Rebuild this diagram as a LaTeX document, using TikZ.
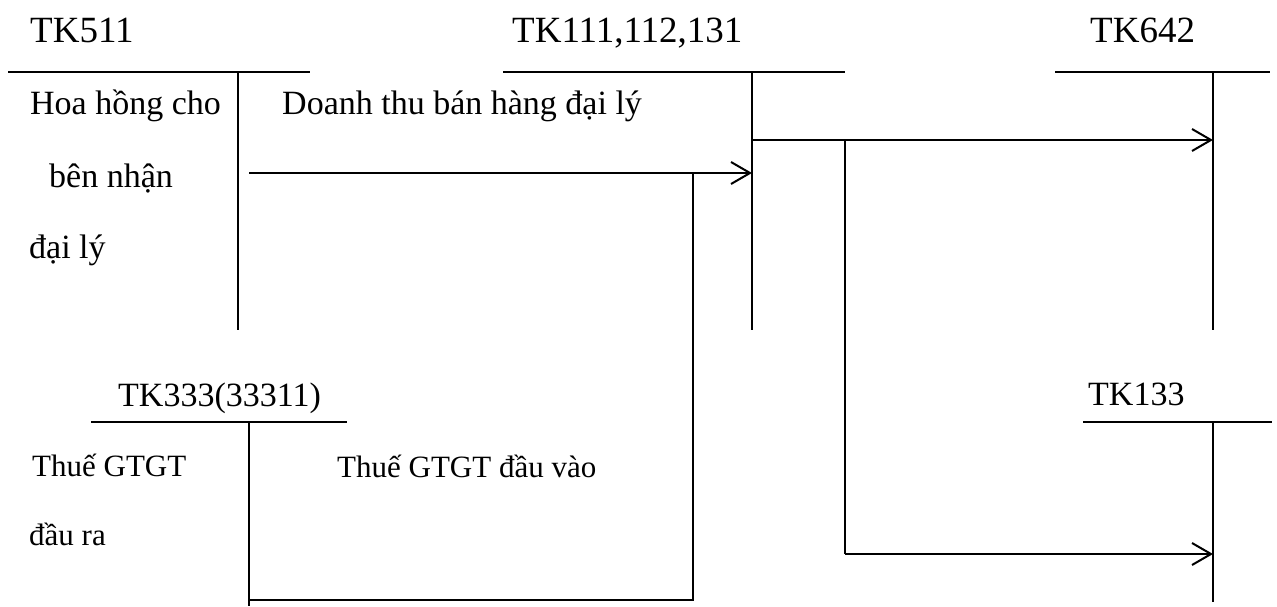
\documentclass[tikz,border=0pt]{standalone}
\usepackage{fontspec}
\setmainfont{Liberation Serif}
\usetikzlibrary{arrows.meta}
\begin{document}
\begin{tikzpicture}[x=1pt,y=-1pt,
  lbl/.style={anchor=base west,inner sep=0pt,font=\fontsize{34}{40}\selectfont},
  hdr/.style={anchor=base west,inner sep=0pt,font=\fontsize{37}{43}\selectfont},
  sml/.style={anchor=base west,inner sep=0pt,font=\fontsize{31}{37}\selectfont},
  ln/.style={line width=2pt},
  arr/.style={ln,-{Straight Barb[length=19pt,width=22pt]}}]
\useasboundingbox (0,0) rectangle (1277,607);
% T-account TK511
\node[hdr] (h511) at (30,43) {TK511};
\coordinate (a1l) at (8,72); \coordinate (a1r) at (310,72);
\coordinate (a1t) at (238,72); \coordinate (a1b) at (238,330);
\draw[ln] (a1l) -- (a1r); \draw[ln] (a1t) -- (a1b);
\node[lbl] (t1) at (30,115) {Hoa hồng cho};
\node[lbl] (t2) at (49,187) {bên nhận};
\node[lbl] (t3) at (29,258) {đại lý};
% T-account TK111,112,131
\node[hdr] (h111) at (512,43) {TK111,112,131};
\coordinate (b1l) at (503,72); \coordinate (b1r) at (845,72);
\coordinate (b1t) at (752,72); \coordinate (b1b) at (752,330);
\draw[ln] (b1l) -- (b1r); \draw[ln] (b1t) -- (b1b);
\node[lbl] (t4) at (282,115) {Doanh thu bán hàng đại lý};
% T-account TK642
\node[hdr] (h642) at (1090,43) {TK642};
\coordinate (c1l) at (1055,72); \coordinate (c1r) at (1270,72);
\coordinate (c1t) at (1213,72); \coordinate (c1b) at (1213,330);
\draw[ln] (c1l) -- (c1r); \draw[ln] (c1t) -- (c1b);
% T-account TK333(33311)
\node[lbl] (h333) at (118,406) {TK333(33311)};
\coordinate (d1l) at (91,422); \coordinate (d1r) at (347,422);
\coordinate (d1t) at (249,422); \coordinate (d1b) at (249,606);
\draw[ln] (d1l) -- (d1r); \draw[ln] (d1t) -- (d1b);
\node[sml] (t5) at (32,476) {Thuế GTGT};
\node[sml] (t6) at (29,545) {đầu ra};
\node[sml] (t7) at (337,477) {Thuế GTGT đầu vào};
% T-account TK133
\node[lbl] (h133) at (1088,405) {TK133};
\coordinate (e1l) at (1083,422); \coordinate (e1r) at (1272,422);
\coordinate (e1t) at (1213,422); \coordinate (e1b) at (1213,602);
\draw[ln] (e1l) -- (e1r); \draw[ln] (e1t) -- (e1b);
% flows
\coordinate (s1) at (249,173);
\draw[arr] (s1) -- (b1t |- s1);
\coordinate (v1) at (693,173); \coordinate (v1b) at (693,600);
\draw[ln] (v1) -- (v1b) -- (d1t |- v1b);
\coordinate (s2) at (752,140);
\draw[arr] (s2) -- (c1t |- s2);
\coordinate (v2) at (845,140); \coordinate (v2b) at (845,554);
\draw[ln] (v2) -- (v2b);
\draw[arr] (v2b) -- (e1t |- v2b);
\end{tikzpicture}
\end{document}
